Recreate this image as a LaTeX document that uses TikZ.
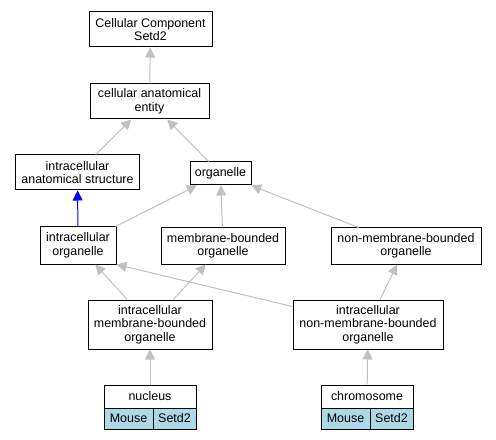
\documentclass[tikz,border=0pt]{standalone}
\usepackage{fontspec}
\setmainfont{Liberation Sans}
\usepackage{tikz}
\usetikzlibrary{arrows.meta}
\usetikzlibrary{positioning}
\definecolor{edgegray}{RGB}{192,192,192}
\definecolor{genefill}{RGB}{173,216,230}
\tikzstyle{term} = [rectangle, draw=black, fill=white, text centered, align=center, inner sep=0pt, line width=1bp, font=\fontsize{12.5}{13.5}\selectfont]
\tikzstyle{gene} = [term, fill=genefill, minimum height=21bp]
\tikzstyle{arrow} = [draw=edgegray, line width=1bp, -{Triangle[length=10bp,width=10bp]}]
\tikzstyle{isa} = [arrow, draw=blue]

\begin{document}
\begin{tikzpicture}[x=1bp, y=-1bp]

        \useasboundingbox (0,0) rectangle (496,440);

        \node (ccSetd2) [term, minimum width=123bp, minimum height=35bp] at (150.5,29.5) {Cellular Component\\Setd2};
        \node (entity) [term, minimum width=119bp, minimum height=35bp] at (149.5,101.5) {cellular anatomical\\entity};
        \node (intraStruct) [term, minimum width=123bp, minimum height=35bp] at (77.5,172.5) {intracellular\\anatomical structure};
        \node (organelle) [term, minimum width=61bp, minimum height=23bp] at (220.5,173.5) {organelle};
        \node (intraOrg) [term, minimum width=76bp, minimum height=37bp] at (78,245.5) {intracellular\\organelle};
        \node (membOrg) [term, minimum width=124bp, minimum height=36bp] at (223,246) {membrane-bounded\\organelle};
        \node (nonmembOrg) [term, minimum width=150bp, minimum height=36bp] at (406,246) {non-membrane-bounded\\organelle};
        \node (intraMemb) [term, minimum width=124bp, minimum height=49bp] at (150,324.5) {intracellular\\membrane-bounded\\organelle};
        \node (intraNonmemb) [term, minimum width=150bp, minimum height=49bp] at (368,324.5) {intracellular\\non-membrane-bounded\\organelle};

        \node (nucleus) [term, minimum width=92bp, minimum height=23bp] at (150,396.5) {nucleus};
        \node (nucMouse) [gene, minimum width=49bp] at (128.5,418.5) {Mouse};
        \node (nucSetd2) [gene, minimum width=43bp] at (174.5,418.5) {Setd2};
        \node (chromosome) [term, minimum width=92bp, minimum height=23bp] at (367,396.5) {chromosome};
        \node (chrMouse) [gene, minimum width=49bp] at (345.5,418.5) {Mouse};
        \node (chrSetd2) [gene, minimum width=43bp] at (391.5,418.5) {Setd2};

        \draw [arrow] (entity) -- (ccSetd2);
        \draw [arrow] (intraStruct) -- (entity);
        \draw [arrow] (organelle) -- (entity);
        \draw [isa] (intraOrg) -- (intraStruct);
        \draw [arrow] (intraOrg) -- (organelle);
        \draw [arrow] (membOrg) -- (organelle);
        \draw [arrow] (nonmembOrg) -- (organelle);
        \draw [arrow] (intraMemb) -- (intraOrg);
        \draw [arrow] (intraMemb) -- (membOrg);
        \draw [arrow] (intraNonmemb) -- (intraOrg.south east);
        \draw [arrow] (intraNonmemb) -- (nonmembOrg);
        \draw [arrow] (nucleus) -- (intraMemb);
        \draw [arrow] (chromosome) -- (intraNonmemb);

    \end{tikzpicture}
\end{document}
